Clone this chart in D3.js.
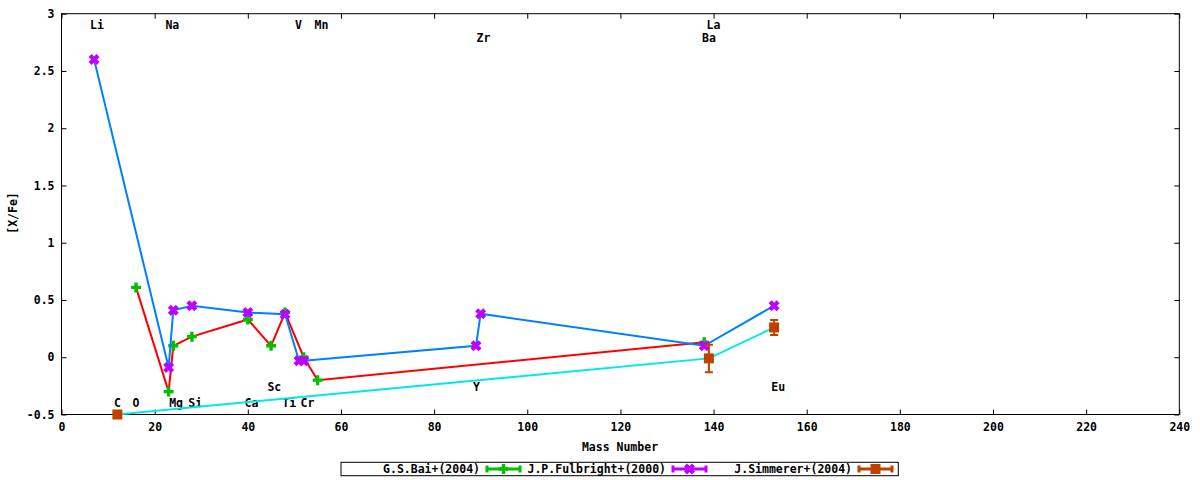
<!DOCTYPE html>
<html>
<head>
<meta charset="utf-8">
<script src="https://cdn.jsdelivr.net/npm/d3@7"></script>
<style>
    body { margin: 0; background: #fff; }
    text { font-family: "DejaVu Sans Mono", "Liberation Mono", monospace; font-weight: bold; font-size: 11.5px; fill: #000; }
</style>
</head>
<body>
<div id="chart"></div>
<script>
// G.S.Bai+(2004)
const baiMass = [16, 23, 24, 28, 40, 45, 48, 52, 55, 138];
const baiVal = [0.61, -0.30, 0.10, 0.18, 0.33, 0.10, 0.39, 0.00, -0.20, 0.13];

// J.P.Fulbright+(2000)
const fulMass = [7, 23, 24, 28, 40, 48, 51, 52, 89, 90, 138, 153];
const fulVal = [2.60, -0.09, 0.41, 0.45, 0.39, 0.375, -0.03, -0.03, 0.10, 0.38, 0.10, 0.45];

// J.Simmerer+(2004)
const simMass = [12, 139, 153];
const simVal = [-0.50, -0.01, 0.26];
const simErr = [0, 0.12, 0.065];

const seriesNames = ["G.S.Bai+(2004)", "J.P.Fulbright+(2000)", "J.Simmerer+(2004)"];

// element labels (data coordinates)
const elemNames = ["Li", "Na", "V", "Mn", "La", "Zr", "Ba", "Sc", "Y", "Eu", "C", "O", "Mg", "Si", "Ca", "Ti", "Cr"];
const elemX = [7.6, 23.8, 50.9, 55.8, 140, 90.6, 139, 45.7, 89.1, 153.9, 12, 16, 24.6, 28.7, 40.8, 48.9, 52.8];
const elemY = [2.9, 2.9, 2.9, 2.9, 2.9, 2.79, 2.79, -0.26, -0.26, -0.26, -0.4, -0.4, -0.4, -0.4, -0.4, -0.4, -0.4];

const xTicks = d3.range(0, 241, 20);
const yTicks = [-0.5, 0, 0.5, 1, 1.5, 2, 2.5, 3];

const width = 1200, height = 480;
const mLeft = 61.5, mRight = 1179.3, mTop = 13.7, mBottom = 414.5;

const x = d3.scaleLinear().domain([0, 240]).range([mLeft, mRight]);
const y = d3.scaleLinear().domain([-0.5, 3]).range([mBottom, mTop]);

const svg = d3.select("#chart").append("svg")
    .attr("width", width)
    .attr("height", height);

// axes, ticks pointing inward like gnuplot
svg.append("g")
    .attr("transform", `translate(0,${mBottom})`)
    .call(d3.axisBottom(x).tickValues(xTicks).tickSize(-5).tickSizeOuter(0).tickPadding(8).tickFormat(d => String(d)))
    .call(g => g.select(".domain").remove());
svg.append("g")
    .attr("transform", `translate(0,${mTop})`)
    .call(d3.axisTop(x).tickValues(xTicks).tickSize(-5).tickSizeOuter(0).tickFormat(""))
    .call(g => g.select(".domain").remove());
svg.append("g")
    .attr("transform", `translate(${mLeft},0)`)
    .call(d3.axisLeft(y).tickValues(yTicks).tickSize(-5).tickSizeOuter(0).tickPadding(7).tickFormat(d => String(d)))
    .call(g => g.select(".domain").remove());
svg.append("g")
    .attr("transform", `translate(${mRight},0)`)
    .call(d3.axisRight(y).tickValues(yTicks).tickSize(-5).tickSizeOuter(0).tickFormat(""))
    .call(g => g.select(".domain").remove());

svg.selectAll(".tick line").attr("stroke", "#000");
svg.selectAll(".tick text").attr("font-size", null).attr("font-family", null);

svg.append("rect")
    .attr("x", mLeft).attr("y", mTop)
    .attr("width", mRight - mLeft).attr("height", mBottom - mTop)
    .attr("fill", "none").attr("stroke", "#000").attr("stroke-width", 1);

svg.append("text")
    .attr("x", 620).attr("y", 447)
    .attr("text-anchor", "middle").attr("dominant-baseline", "central")
    .text("Mass Number");
svg.append("text")
    .attr("transform", "translate(12.7,213) rotate(-90)")
    .attr("text-anchor", "middle").attr("dominant-baseline", "central")
    .text("[X/Fe]");

// element labels
svg.append("g").selectAll("text")
    .data(elemNames)
    .enter().append("text")
    .attr("x", (d, i) => x(elemX[i]))
    .attr("y", (d, i) => y(elemY[i]))
    .attr("text-anchor", "middle")
    .attr("dominant-baseline", "central")
    .text(d => d);

// point symbols
function plus(g, s) {
    g.append("path").attr("d", `M${-s},0H${s}M0,${-s}V${s}`)
        .attr("stroke-width", 3.4).attr("fill", "none");
}
function cross(g, s) {
    g.append("path").attr("d", `M${-s},${-s}L${s},${s}M${-s},${s}L${s},${-s}`)
        .attr("stroke-width", 4.2).attr("fill", "none");
}
function square(g, s) {
    g.append("rect").attr("x", -s).attr("y", -s).attr("width", 2 * s).attr("height", 2 * s)
        .attr("stroke", "none");
}

const line = d3.line().x(d => x(d[0])).y(d => y(d[1]));

const series = [
    { mass: baiMass, val: baiVal, err: null, lineColor: "#ff0000", ptColor: "#00c000", sym: g => plus(g, 5) },
    { mass: fulMass, val: fulVal, err: null, lineColor: "#0080ff", ptColor: "#c000ff", sym: g => cross(g, 4) },
    { mass: simMass, val: simVal, err: simErr, lineColor: "#00e8e8", ptColor: "#c04000", sym: g => square(g, 5) }
];

series.forEach(function (s) {
    const pts = s.mass.map((m, i) => [m, s.val[i]]);
    svg.append("path")
        .datum(pts)
        .attr("d", line)
        .attr("fill", "none")
        .attr("stroke", s.lineColor)
        .attr("stroke-width", 2);

    const g = svg.append("g");
    pts.forEach(function (p, i) {
        const pg = g.append("g")
            .attr("transform", `translate(${x(p[0])},${y(p[1])})`)
            .attr("stroke", s.ptColor)
            .attr("fill", s.ptColor);
        s.sym(pg);
        if (s.err && s.err[i] > 0) {
            const e = y(p[1] - s.err[i]) - y(p[1]);
            pg.append("path")
                .attr("d", `M0,${-e}V${e}M-4,${-e}H4M-4,${e}H4`)
                .attr("stroke-width", 2).attr("fill", "none");
        }
    });
});

// legend
const legend = svg.append("g");
legend.append("rect")
    .attr("x", 341).attr("y", 462.3)
    .attr("width", 557.3).attr("height", 13.4)
    .attr("fill", "#fff").attr("stroke", "#000").attr("stroke-width", 1);

seriesNames.forEach(function (name, i) {
    const s = series[i];
    const x0 = 486 + i * 186, ly = 469;
    legend.append("text")
        .attr("x", x0 - 6).attr("y", ly)
        .attr("text-anchor", "end").attr("dominant-baseline", "central")
        .text(name);
    legend.append("path")
        .attr("d", `M${x0},${ly}H${x0 + 35}M${x0 + 1},${ly - 3.5}V${ly + 3.5}M${x0 + 34},${ly - 3.5}V${ly + 3.5}`)
        .attr("stroke", s.ptColor).attr("stroke-width", 3).attr("fill", "none");
    const pg = legend.append("g")
        .attr("transform", `translate(${x0 + 17.5},${ly})`)
        .attr("stroke", s.ptColor).attr("fill", s.ptColor);
    s.sym(pg);
});
</script>
</body>
</html>
